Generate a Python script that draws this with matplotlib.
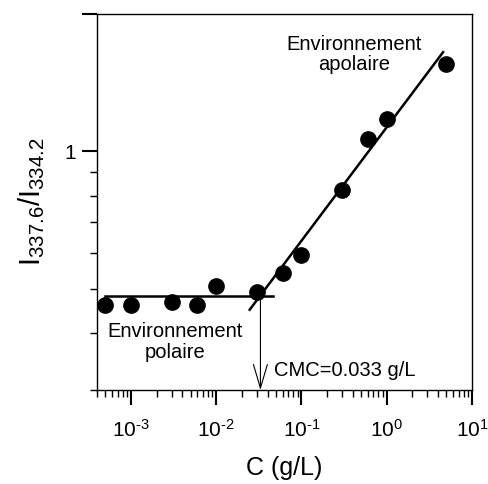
import matplotlib
matplotlib.use('Agg')
import matplotlib.pyplot as plt
import matplotlib.ticker as mticker
import numpy as np

plt.rcParams['font.family'] = ['Liberation Sans', 'DejaVu Sans']
plt.rcParams['mathtext.fontset'] = 'custom'
plt.rcParams['mathtext.rm'] = 'Liberation Sans'
plt.rcParams['axes.unicode_minus'] = False

# data
conc = [5e-4, 1e-3, 3e-3, 6e-3, 1e-2, 0.03, 0.06, 0.1, 0.3, 0.6, 1.0, 5.0]
ratio = [0.46, 0.46, 0.468, 0.46, 0.507, 0.491, 0.542, 0.592, 0.825, 1.067, 1.177, 1.556]

# fitted lines
flat_x = [4.94e-4, 0.0464]
flat_y = [0.482, 0.482]
slope_x = [0.0247, 4.59]
slope_y = [0.450, 1.65]

cmc = 0.033


def decade_label(v, pos):
    e = int(round(np.log10(v)))
    if e < 0:
        return r'$\mathregular{10^{\text{-}%d}}$' % (-e)
    return r'$\mathregular{10^{%d}}$' % e


fig = plt.figure(figsize=(4.88, 4.84), dpi=100)
ax = fig.add_axes([0.198, 0.194, 0.769, 0.777])

ax.plot(conc, ratio, 'o', color='black', markersize=11)
ax.plot(flat_x, flat_y, color='black', linewidth=1.8)
ax.plot(slope_x, slope_y, color='black', linewidth=1.8)

ax.annotate('', xy=(cmc, 0.3), xytext=(cmc, 0.482),
            arrowprops=dict(arrowstyle='->,head_length=1.7,head_width=0.5',
                            color='black', linewidth=0.8, shrinkA=0, shrinkB=0))

ax.set_xscale('log')
ax.set_yscale('log')
ax.set_xlim(3.95e-4, 10)
ax.set_ylim(0.3, 2)

# y ticks: 1 and 2 major (only 1 labelled), 0.3-0.9 minor
ax.yaxis.set_major_locator(mticker.FixedLocator([1, 2]))
ax.yaxis.set_major_formatter(mticker.FixedFormatter(['1', '']))
ax.yaxis.set_minor_locator(mticker.FixedLocator([0.3, 0.4, 0.5, 0.6, 0.7, 0.8, 0.9]))
ax.yaxis.set_minor_formatter(mticker.NullFormatter())

ax.xaxis.set_major_locator(mticker.LogLocator(base=10, numticks=10))
ax.xaxis.set_major_formatter(mticker.FuncFormatter(decade_label))
ax.xaxis.set_minor_locator(mticker.LogLocator(base=10, subs=np.arange(2, 10), numticks=20))
ax.xaxis.set_minor_formatter(mticker.NullFormatter())

ax.tick_params(which='major', direction='out', length=11, width=1.5, labelsize=15, pad=4)
ax.tick_params(which='minor', direction='out', length=5, width=1)
ax.tick_params(axis='x', which='major', pad=10)

for s in ['left', 'right', 'bottom', 'top']:
    ax.spines[s].set_linewidth(1)

ax.set_xlabel('C (g/L)', fontsize=18, labelpad=11)
ax.set_ylabel(r'I$\mathregular{_{337.6}}$/I$\mathregular{_{334.2}}$', fontsize=21, labelpad=12)

ax.text(0.41, 1.63, 'Environnement\napolaire', fontsize=14.5, ha='center', va='center',
        linespacing=1.1)
ax.text(3.3e-3, 0.382, 'Environnement\npolaire', fontsize=14.5, ha='center', va='center',
        linespacing=1.1)
ax.text(0.048, 0.332, 'CMC=0.033 g/L', fontsize=14.5, ha='left', va='center')

fig.savefig('out.png', dpi=100)
